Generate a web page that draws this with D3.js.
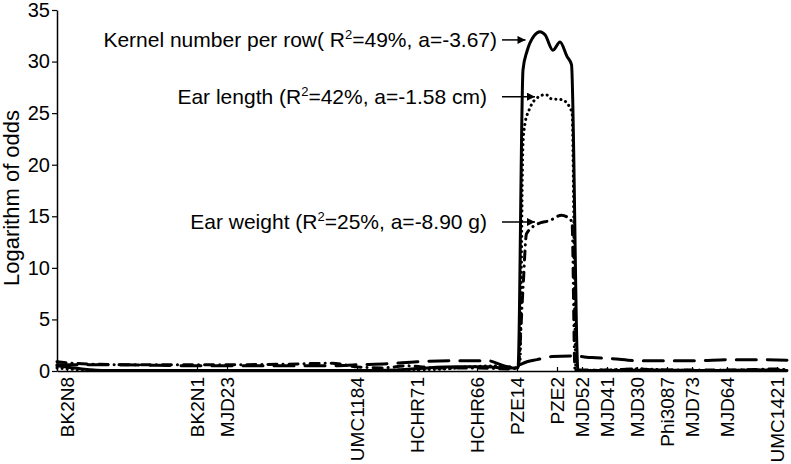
<!DOCTYPE html>
<html>
<head>
<meta charset="utf-8">
<script src="https://cdn.jsdelivr.net/npm/d3@7"></script>
<style>
  body { margin: 0; background: #fff; }
  text { font-family: "Liberation Sans", Arial, sans-serif; fill: #000; }
</style>
</head>
<body>
<div id="chart"></div>
<script>
// Markers along the linkage group (cM) and their names
var markerNames = ["BK2N8", "BK2N1", "MJD23", "UMC1184", "HCHR71", "HCHR66", "PZE14",
  "PZE2", "MJD52", "MJD41", "MJD30", "Phi3087", "MJD73", "MJD64", "UMC1421"];
var markerPos = [2, 28, 34, 60, 72, 84, 92, 100, 105, 110, 116, 122, 127, 134, 144];

// Kernel number per row (solid)
var kernelPos = [0, 5, 10, 30, 50, 60, 68, 74, 80, 86, 90, 92.2, 93.2, 94, 95.4, 96.6, 97.6, 99.2,
  100.6, 102, 102.9, 104.2, 110, 120, 130, 140, 146];
var kernelLod = [0.5, 0.2, 0.05, 0.05, 0.05, 0.05, 0.1, 0.3, 0.4, 0.4, 0.3, 0.3, 29.2, 31, 32.5, 32.9, 32.6, 31.1,
  31.9, 30.5, 29.7, 0.05, 0.05, 0.1, 0.05, 0.1, 0.05];

// Ear length (dotted)
var lengthPos = [0, 5, 10, 30, 50, 60, 70, 78, 82, 88, 91.6, 92.6, 93.2, 93.6, 94, 94.6, 95.2, 97.8,
  98.8, 101, 103, 103.8, 110, 116, 122, 130, 140, 146];
var lengthLod = [0.3, 0.1, 0.05, 0.05, 0.05, 0.05, 0.1, 0.2, 0.4, 0.5, 0.3, 1, 22, 24, 24.8, 25.5, 26.1, 26.8,
  26.4, 26.3, 25.1, 0.05, 0.1, 0.2, 0.1, 0.05, 0.1, 0.1];

// Ear weight (dash-dot)
var weightPos = [0, 5, 15, 30, 45, 55, 60, 65, 70, 76, 84, 90, 92.2, 93.2, 93.9, 95.9, 98.6, 100.9,
  103, 103.6, 110, 116, 120, 135, 144, 146];
var weightLod = [0.9, 0.7, 0.6, 0.6, 0.65, 0.75, 0.4, 0.3, 0.5, 0.3, 0.3, 0.2, 0.3, 8, 13.3, 14.2, 14.6, 15.1,
  14.5, 0.1, 0.1, 0.2, 0.1, 0.1, 0.2, 0.1];

// Fourth trace (long dash)
var dashPos = [0, 10, 30, 55, 60, 66, 72, 80, 86, 90.6, 92, 94, 96, 99, 103, 107, 111, 116, 122, 128,
  134, 140, 146];
var dashLod = [0.6, 0.6, 0.5, 0.5, 0.6, 0.7, 0.9, 1.0, 1.0, 0.4, 0.5, 0.9, 1.1, 1.4, 1.45, 1.3, 1.2, 1.0,
  1.0, 1.0, 1.1, 1.1, 1.05];

var yTicks = [0, 5, 10, 15, 20, 25, 30, 35];

var svgWidth = 791;
var svgHeight = 464;

var svg = d3.select("#chart")
  .append("svg")
  .attr("width", svgWidth)
  .attr("height", svgHeight);

var xScale = d3.scaleLinear().domain([0, 146]).range([57, 787]);
var yScale = d3.scaleLinear().domain([0, 35]).range([371, 10]);

// arrow head
svg.append("defs").append("marker")
  .attr("id", "arrow")
  .attr("viewBox", "0 0 10 10")
  .attr("refX", 10)
  .attr("refY", 5)
  .attr("markerWidth", 10)
  .attr("markerHeight", 8)
  .attr("markerUnits", "userSpaceOnUse")
  .attr("orient", "auto")
  .append("path")
  .attr("d", "M0,0 L10,5 L0,10 Z")
  .attr("fill", "#000");

// axes
var leftAxis = d3.axisLeft(yScale)
  .tickValues(yTicks)
  .tickSizeInner(5)
  .tickSizeOuter(0)
  .tickPadding(2);

var yAxisG = svg.append("g")
  .attr("transform", `translate(${xScale(0)}, 0)`)
  .call(leftAxis);
yAxisG.selectAll("text").style("font-size", "20px").style("font-family", "Liberation Sans, Arial, sans-serif");

var bottomAxis = d3.axisBottom(xScale)
  .tickValues(markerPos)
  .tickFormat((d, i) => markerNames[i])
  .tickSizeInner(-4)
  .tickSizeOuter(0);

var xAxisG = svg.append("g")
  .attr("transform", `translate(0, ${yScale(0)})`)
  .call(bottomAxis);
xAxisG.selectAll("text")
  .attr("transform", "rotate(-90)")
  .attr("text-anchor", "end")
  .attr("x", -6)
  .attr("y", 0)
  .attr("dy", "0.36em")
  .style("font-size", "19px")
  .style("font-family", "Liberation Sans, Arial, sans-serif");

svg.selectAll(".domain").attr("stroke", "#000").attr("stroke-width", 1.5);
svg.selectAll(".tick line").attr("stroke", "#000").attr("stroke-width", 1.2);

// lines
var series = [
  { pos: dashPos, lod: dashLod, dash: "20 11", width: 3 },
  { pos: weightPos, lod: weightLod, dash: "9 6 0.1 6", width: 3 },
  { pos: lengthPos, lod: lengthLod, dash: "0.1 5", width: 3 },
  { pos: kernelPos, lod: kernelLod, dash: null, width: 3 }
];

var line = d3.line()
  .x(d => xScale(d[0]))
  .y(d => yScale(d[1]))
  .curve(d3.curveMonotoneX);

svg.selectAll(".qtl")
  .data(series)
  .enter()
  .append("path")
  .attr("class", "qtl")
  .attr("d", s => line(s.pos.map((p, i) => [p, s.lod[i]])))
  .attr("fill", "none")
  .attr("stroke", "#000")
  .attr("stroke-width", s => s.width)
  .attr("stroke-linecap", "round")
  .attr("stroke-linejoin", "round")
  .attr("stroke-dasharray", s => s.dash);

// annotations
var annotations = [
  { pre: "Kernel number per row( R", post: "=49%, a=-3.67)", textX: 497, tipPos: 93.7, tipLod: 32.1 },
  { pre: "Ear length (R", post: "=42%, a=-1.58 cm)", textX: 487, tipPos: 95.6, tipLod: 26.6 },
  { pre: "Ear weight (R", post: "=25%, a=-8.90 g)", textX: 487, tipPos: 95.6, tipLod: 14.45 }
];

annotations.forEach(function(a) {
  var ty = yScale(a.tipLod);
  var t = svg.append("text")
    .attr("x", a.textX)
    .attr("y", ty + 7.5)
    .attr("text-anchor", "end")
    .style("font-size", "21px");
  t.append("tspan").text(a.pre);
  t.append("tspan").attr("dy", -8).style("font-size", "13px").text("2");
  t.append("tspan").attr("dy", 8).text(a.post);

  svg.append("line")
    .attr("x1", 502)
    .attr("y1", ty)
    .attr("x2", xScale(a.tipPos))
    .attr("y2", ty)
    .attr("stroke", "#000")
    .attr("stroke-width", 1.5)
    .attr("marker-end", "url(#arrow)");
});

// y axis title
svg.append("text")
  .attr("transform", "translate(19, 198) rotate(-90)")
  .attr("text-anchor", "middle")
  .style("font-size", "22px")
  .text("Logarithm of odds");
</script>
</body>
</html>
